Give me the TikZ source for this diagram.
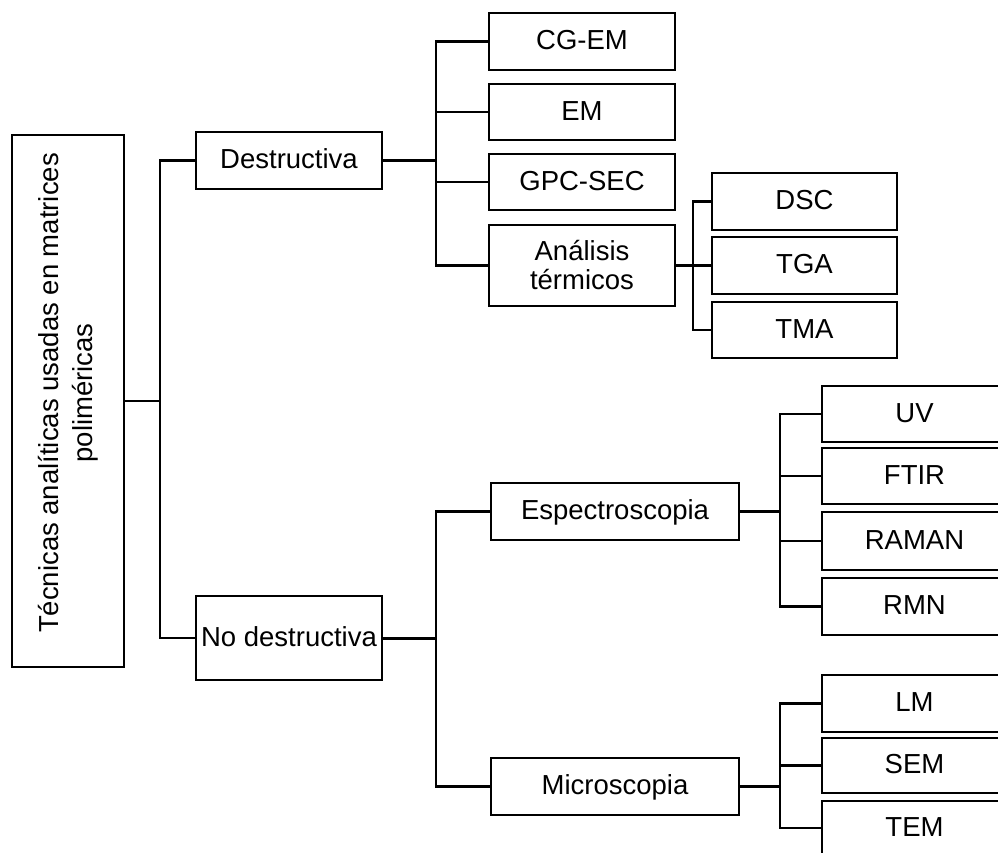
\documentclass[tikz,border=0pt]{standalone}
\usepackage{fontspec}
\setmainfont{Liberation Sans}
\usepackage{tikz}

\tikzset{caja/.style={draw=black, line width=2.4pt, fill=white, inner sep=0pt, align=center, font=\fontsize{27.5}{29}\selectfont},
  uno/.style={caja, text height=22pt, text depth=6pt}}

\begin{document}
\begin{tikzpicture}[x=1pt, y=-1pt, line width=2.4pt]
\useasboundingbox (0,0) rectangle (998,852);
\clip (0,0) rectangle (998,852);

\node[caja, minimum width=112pt, minimum height=532pt] (root) at (68,401) {};
\node[rotate=90, align=center, font=\fontsize{27.5}{34}\selectfont] (roottxt) at (68,393) {Técnicas analíticas usadas en matrices\\poliméricas};

\node[uno, minimum width=186pt, minimum height=57pt] (dest) at (289,160.5) {Destructiva};
\node[uno, minimum width=186pt, minimum height=84pt] (nodest) at (289,638) {No destructiva};

\node[uno, minimum width=186pt, minimum height=57pt] (cgem) at (582,41.5) {CG-EM};
\node[uno, minimum width=186pt, minimum height=56pt] (em) at (582,112) {EM};
\node[uno, minimum width=186pt, minimum height=56pt] (gpc) at (582,182) {GPC-SEC};
\node[caja, minimum width=186pt, minimum height=81pt] (anal) at (582,265.5) {Análisis\\térmicos};

\node[uno, minimum width=185pt, minimum height=57pt] (dsc) at (804.5,201.5) {DSC};
\node[uno, minimum width=185pt, minimum height=57pt] (tga) at (804.5,265.5) {TGA};
\node[uno, minimum width=185pt, minimum height=56pt] (tma) at (804.5,330) {TMA};

\node[uno, minimum width=248pt, minimum height=57pt] (esp) at (615,511.5) {Espectroscopia};
\node[uno, minimum width=248pt, minimum height=57pt] (mic) at (615,786.5) {Microscopia};

\node[uno, minimum width=185pt, minimum height=56pt] (uv) at (914.5,414) {UV};
\node[uno, minimum width=185pt, minimum height=56pt] (ftir) at (914.5,476) {FTIR};
\node[uno, minimum width=185pt, minimum height=58pt] (raman) at (914.5,541) {RAMAN};
\node[uno, minimum width=185pt, minimum height=57pt] (rmn) at (914.5,606.5) {RMN};
\node[uno, minimum width=185pt, minimum height=57pt] (lm) at (914.5,703.5) {LM};
\node[uno, minimum width=185pt, minimum height=55pt] (sem) at (914.5,765.5) {SEM};
\node[uno, minimum width=185pt, minimum height=54pt] (tem) at (914.5,828) {TEM};

\coordinate (bA) at (160,401);
\coordinate (bD) at (436,160.5);
\coordinate (bT) at (693,265.5);
\coordinate (bN) at (436,638);
\coordinate (bE) at (780,511.5);
\coordinate (bM) at (780,786.5);

\draw (root.east) -- (bA);
\draw (bA) |- (dest.west);
\draw (bA) |- (nodest.west);

\draw[line width=3pt] (dest.east) -- (bD);
\foreach \n in {cgem,em,gpc,anal}
  \draw (bD) |- (\n.west);

\draw (anal.east) -- (bT);
\foreach \n in {dsc,tga,tma}
  \draw (bT) |- (\n.west);

\draw[line width=3pt] (nodest.east) -- (bN);
\draw (bN) |- (esp.west);
\draw (bN) |- (mic.west);

\draw[line width=3pt] (esp.east) -- (bE);
\foreach \n in {uv,ftir,raman,rmn}
  \draw (bE) |- (\n.west);

\draw[line width=3pt] (mic.east) -- (bM);
\foreach \n in {lm,sem,tem}
  \draw (bM) |- (\n.west);
\end{tikzpicture}
\end{document}
